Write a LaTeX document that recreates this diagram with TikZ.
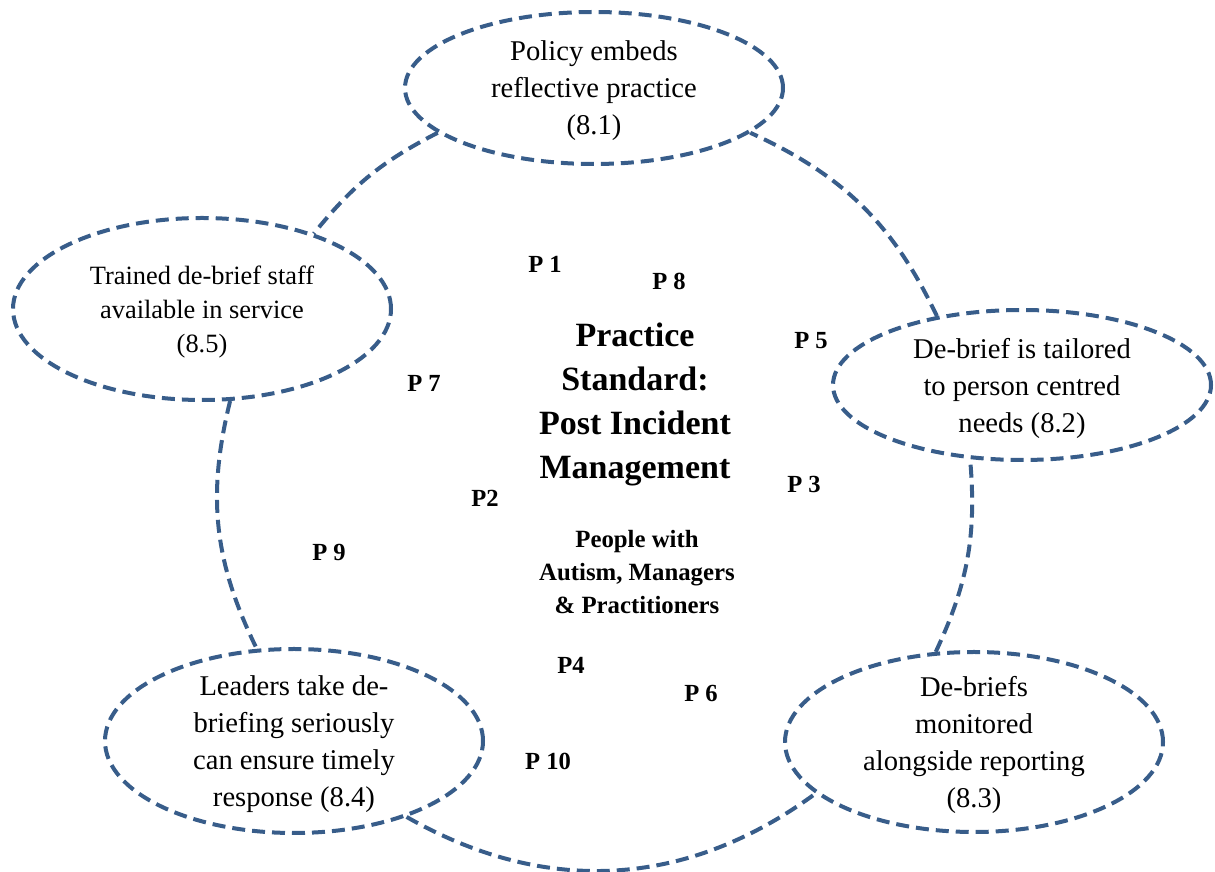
\documentclass[tikz,border=0pt]{standalone}
\usepackage{fontspec}
\setmainfont{Liberation Serif}
\usetikzlibrary{shapes.geometric}
\definecolor{outlineblue}{RGB}{56,93,138}
\tikzstyle{bubble} = [ellipse, draw=outlineblue, line width=2pt, dash pattern=on 6.5pt off 3.5pt, fill=white, inner sep=0pt, minimum width=189pt]
\tikzstyle{bubbletext} = [align=center, yshift=-1.5pt, font=\fontsize{14.3}{18.5}\selectfont]
\tikzstyle{heading} = [align=center, font=\bfseries\fontsize{17}{22}\selectfont]
\tikzstyle{subheading} = [align=center, font=\bfseries\fontsize{12.4}{16.5}\selectfont]
\tikzstyle{pnum} = [anchor=base, inner sep=0pt, font=\bfseries\fontsize{12.3}{14}\selectfont]
\tikzstyle{dashlink} = [draw=outlineblue, line width=2pt, dash pattern=on 6.5pt off 3.5pt]

\begin{document}
\begin{tikzpicture}[x=0.5pt, y=0.5pt] % 1 像素 = 0.5pt
\useasboundingbox (0,0) rectangle (1215,872);
% 定义椭圆
\node (policy) [bubble, minimum height=76pt] at (594,784) {};
\node (staff) [bubble, minimum height=91pt] at (202,563) {};
\node (tailored) [bubble, minimum height=75pt] at (1022,487) {};
\node (leaders) [bubble, minimum height=92pt] at (294,131) {};
\node (monitored) [bubble, minimum height=90pt] at (974,130) {};

% 椭圆文字
\node (policytext) [bubbletext] at (policy) {Policy embeds\\reflective practice\\(8.1)};
\node (stafftext) [bubbletext, font=\fontsize{13.2}{17}\selectfont] at (staff) {Trained de-brief staff\\available in service\\(8.5)};
\node (tailoredtext) [bubbletext] at (tailored) {De-brief is tailored\\to person centred\\needs (8.2)};
\node (leaderstext) [bubbletext] at (leaders) {Leaders take de-\\briefing seriously\\can ensure timely\\response (8.4)};
\node (monitoredtext) [bubbletext] at (monitored) {De-briefs\\monitored\\alongside reporting\\(8.3)};

% 中心标题
\node (standard) [heading] at (635,468) {Practice\\Standard:\\Post Incident\\Management};
\node (people) [subheading] at (637,300) {People with\\Autism, Managers\\\& Practitioners};

% P 编号
\node (p1) [pnum] at (545,599) {P 1};
\node (p8) [pnum] at (669,582) {P 8};
\node (p5) [pnum] at (811,523) {P 5};
\node (p7) [pnum] at (424,480) {P 7};
\node (p2) [pnum] at (485,365) {P2};
\node (p3) [pnum] at (804,379) {P 3};
\node (p9) [pnum] at (329,311) {P 9};
\node (p4) [pnum] at (571,198) {P4};
\node (p6) [pnum] at (701,170) {P 6};
\node (p10) [pnum] at (548,102) {P 10};

% 虚线连接
\draw [dashlink] (policy.196.6) to[bend right=12] (staff.34.7);
\draw [dashlink] (staff.287.5) to[bend right=20] (leaders.112.6);
\draw [dashlink] (leaders.326.8) to[bend right=33] (monitored.198.3);
\draw [dashlink] (monitored.113.4) to[bend right=15] (tailored.235.6);
\draw [dashlink] (tailored.141.3) to[bend right=20] (policy.344);
\end{tikzpicture}
\end{document}
